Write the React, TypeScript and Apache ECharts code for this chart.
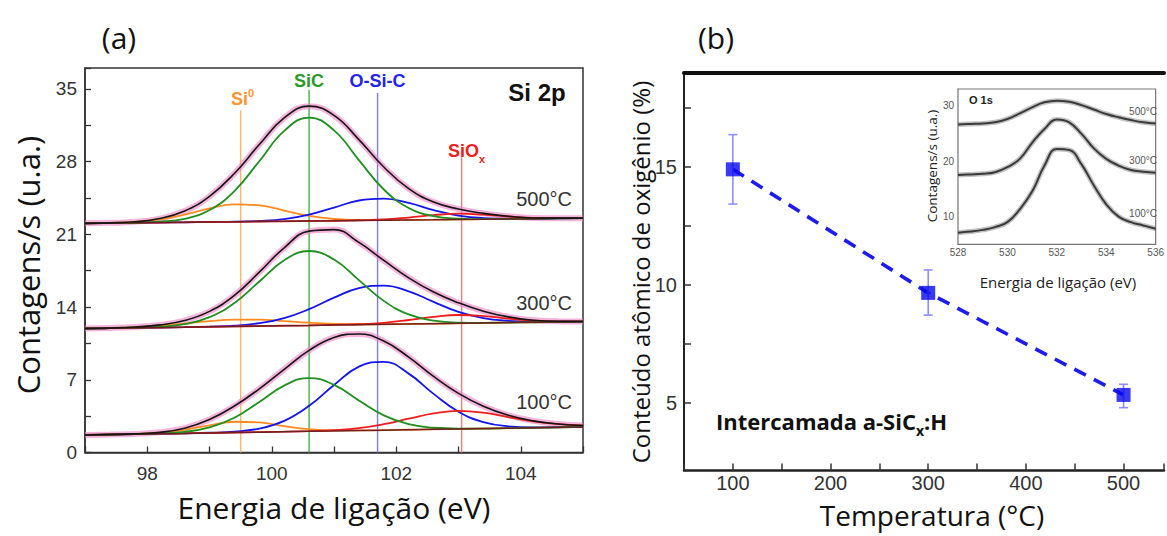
import React, { useEffect, useRef } from "react";
import * as echarts from "echarts";

// ---------- Panel (a): Si 2p spectra (x grid in eV) ----------
const XS_SI = [97, 97.4, 97.8, 98.2, 98.6, 99.0, 99.4, 99.8, 100.2, 100.6, 101.0, 101.4, 101.8, 102.2, 102.6, 103.0, 103.4, 103.8, 104.2, 104.6, 105];

// background (Shirley-like) lines
const BG_500 = [22.05, 22.08, 22.1, 22.13, 22.15, 22.18, 22.2, 22.23, 22.25, 22.28, 22.3, 22.33, 22.35, 22.38, 22.4, 22.43, 22.45, 22.48, 22.5, 22.53, 22.55];
const BG_300 = [11.93, 11.96, 12.0, 12.03, 12.06, 12.1, 12.13, 12.17, 12.2, 12.23, 12.27, 12.3, 12.33, 12.37, 12.4, 12.43, 12.47, 12.5, 12.53, 12.57, 12.6];
const BG_100 = [1.69, 1.73, 1.77, 1.81, 1.84, 1.88, 1.92, 1.96, 2.0, 2.04, 2.07, 2.11, 2.15, 2.19, 2.23, 2.27, 2.3, 2.34, 2.38, 2.42, 2.46];

// fitted envelopes
const ENV_500 = [22.05, 22.1, 22.2, 22.51, 23.23, 24.65, 26.85, 29.63, 32.19, 33.33, 32.44, 30.11, 27.47, 25.39, 24.1, 23.43, 23.01, 22.73, 22.57, 22.55, 22.55];
const ENV_300 = [11.93, 11.98, 12.08, 12.28, 12.7, 13.58, 15.12, 17.35, 19.7, 21.3, 21.45, 20.22, 18.48, 16.81, 15.44, 14.4, 13.6, 13.05, 12.73, 12.62, 12.61];
const ENV_100 = [1.69, 1.73, 1.79, 1.94, 2.34, 3.17, 4.47, 6.13, 8.01, 9.83, 11.07, 11.41, 10.72, 9.18, 7.32, 5.69, 4.45, 3.58, 3.04, 2.75, 2.6];

// component heights above background
const SI0_500 = [0, 0.02, 0.09, 0.3, 0.74, 1.32, 1.68, 1.55, 1.03, 0.49, 0.17, 0.04, 0.01, 0, 0, 0, 0, 0, 0, 0, 0];
const SIC_500 = [0, 0, 0.01, 0.08, 0.34, 1.15, 2.96, 5.8, 8.7, 9.95, 8.7, 5.8, 2.96, 1.15, 0.34, 0.08, 0.01, 0, 0, 0, 0];
const OSIC_500 = [0, 0, 0, 0, 0, 0, 0.01, 0.05, 0.21, 0.61, 1.27, 1.92, 2.08, 1.63, 0.92, 0.37, 0.11, 0.02, 0, 0, 0];
const SIOX_500 = [0, 0, 0, 0, 0, 0, 0, 0, 0, 0, 0, 0.02, 0.07, 0.23, 0.44, 0.55, 0.44, 0.23, 0.07, 0.02, 0];

const SI0_300 = [0, 0.02, 0.07, 0.18, 0.35, 0.54, 0.65, 0.62, 0.45, 0.26, 0.11, 0.04, 0.01, 0, 0, 0, 0, 0, 0, 0, 0];
const SIC_300 = [0, 0, 0.01, 0.07, 0.29, 0.92, 2.26, 4.29, 6.3, 7.16, 6.3, 4.29, 2.26, 0.92, 0.29, 0.07, 0.01, 0, 0, 0, 0];
const OSIC_300 = [0, 0, 0, 0, 0, 0.02, 0.08, 0.27, 0.73, 1.56, 2.63, 3.52, 3.73, 3.14, 2.09, 1.1, 0.46, 0.17, 0.05, 0.01, 0];
const SIOX_300 = [0, 0, 0, 0, 0, 0, 0, 0, 0, 0, 0.01, 0.04, 0.15, 0.38, 0.66, 0.8, 0.66, 0.38, 0.15, 0.04, 0.01];

const SI0_100 = [0, 0, 0.02, 0.1, 0.34, 0.74, 1.04, 0.93, 0.53, 0.2, 0.05, 0.01, 0, 0, 0, 0, 0, 0, 0, 0, 0];
const SIC_100 = [0, 0, 0, 0.03, 0.15, 0.53, 1.42, 2.9, 4.44, 5.12, 4.44, 2.9, 1.42, 0.53, 0.15, 0.03, 0, 0, 0, 0, 0];
const OSIC_100 = [0, 0, 0, 0, 0.01, 0.02, 0.09, 0.34, 1.04, 2.45, 4.43, 6.16, 6.58, 5.4, 3.41, 1.65, 0.62, 0.18, 0.04, 0.01, 0];
const SIOX_100 = [0, 0, 0, 0, 0, 0, 0, 0, 0, 0.02, 0.08, 0.23, 0.57, 1.06, 1.53, 1.74, 1.53, 1.06, 0.62, 0.32, 0.14];

// reference lines (eV) and their top ends
const PEAK_POS = [99.5, 100.6, 101.7, 103.05];
const PEAK_TOP = [32.9, 34.9, 34.6, 28.4];
const TEMP_LABELS_A = ["500°C", "300°C", "100°C"];
const TEMP_LABEL_Y_A = [24.4, 14.4, 4.9];

// ---------- Panel (b): oxygen content ----------
const TEMPS = [100, 300, 500];
const OXYGEN = [14.9, 9.67, 5.35];
const ERR_LOW = [13.43, 8.73, 4.81];
const ERR_HIGH = [16.37, 10.64, 5.8];

// ---------- Inset: O 1s ----------
const XS_O1S = [528, 528.5, 529, 529.5, 530, 530.5, 531, 531.5, 532, 532.5, 533, 533.5, 534, 534.5, 535, 535.5, 536];
const O1S_500 = [26.6, 26.7, 26.8, 27.0, 27.6, 28.6, 29.7, 30.6, 30.9, 30.7, 30.1, 29.3, 28.5, 27.9, 27.4, 27.0, 26.8];
const O1S_300 = [17.5, 17.6, 17.7, 18.0, 18.9, 20.4, 23.3, 25.8, 27.5, 27.0, 24.9, 22.3, 20.4, 19.2, 18.4, 18.1, 17.9];
const O1S_100 = [7.1, 7.3, 7.6, 8.1, 9.0, 11.3, 14.5, 19.2, 22.2, 22.0, 19.4, 15.6, 12.2, 10.0, 9.0, 8.4, 7.8];
const INSET_LABELS = ["500°C", "300°C", "100°C"];

// ---------- layout ----------
const GA = { left: 85, top: 68, width: 498, height: 384.5 };
const XA = [97, 105];
const YA = [0, 37];
const pxA = (x: number) => GA.left + ((x - XA[0]) / (XA[1] - XA[0])) * GA.width;
const pyA = (v: number) => GA.top + GA.height - ((v - YA[0]) / (YA[1] - YA[0])) * GA.height;

const GB = { left: 684, top: 72.5, width: 483, height: 398 };
const GI = { left: 958, top: 89, width: 205, height: 155.3 };

const pts = (xs: number[], ys: number[]) => xs.map((x, i) => [x, ys[i]]);
const stack = (xs: number[], bg: number[], c: number[]) => xs.map((x, i) => [x, Math.round((bg[i] + c[i]) * 1000) / 1000]);

const SPECTRA = [
  { bg: BG_500, env: ENV_500, si0: SI0_500, sic: SIC_500, osic: OSIC_500, siox: SIOX_500 },
  { bg: BG_300, env: ENV_300, si0: SI0_300, sic: SIC_300, osic: OSIC_300, siox: SIOX_300 },
  { bg: BG_100, env: ENV_100, si0: SI0_100, sic: SIC_100, osic: OSIC_100, siox: SIOX_100 },
];

const C_ORANGE = "#ff8a1f";
const C_GREEN = "#1f8f1f";
const C_BLUE = "#1414ee";
const C_RED = "#ee1c1c";
const LINE_COLORS = ["#ffb468", "#4aae4a", "#7a7aff", "#f27a7a"];

const SANS = "'Open Sans', 'Noto Sans', sans-serif";
const ARIAL = "'Liberation Sans', Arial, sans-serif";

function buildOption() {
  const series: any[] = [];

  PEAK_POS.forEach((x, i) => {
    series.push({
      type: "line", xAxisIndex: 0, yAxisIndex: 0, z: 1, silent: true,
      symbol: "none", data: [[x, 0], [x, PEAK_TOP[i]]],
      lineStyle: { color: LINE_COLORS[i], width: 1.4 },
    });
  });

  SPECTRA.forEach((s) => {
    series.push({
      type: "line", xAxisIndex: 0, yAxisIndex: 0, z: 2, silent: true, symbol: "none", smooth: 0.45,
      data: pts(XS_SI, s.env), lineStyle: { color: "rgba(238,128,196,0.6)", width: 6 },
    });
    const comps: [number[], string][] = [[s.si0, C_ORANGE], [s.osic, C_BLUE], [s.siox, C_RED], [s.sic, C_GREEN]];
    comps.forEach(([c, col]) => {
      series.push({
        type: "line", xAxisIndex: 0, yAxisIndex: 0, z: 3, silent: true, symbol: "none", smooth: 0.45,
        data: stack(XS_SI, s.bg, c), lineStyle: { color: col, width: 1.8 },
      });
    });
    series.push({
      type: "line", xAxisIndex: 0, yAxisIndex: 0, z: 4, silent: true, symbol: "none",
      data: pts(XS_SI, s.bg), lineStyle: { color: "#6e1f1f", width: 1.5 },
    });
    series.push({
      type: "line", xAxisIndex: 0, yAxisIndex: 0, z: 5, silent: true, symbol: "none", smooth: 0.45,
      data: pts(XS_SI, s.env), lineStyle: { color: "#161616", width: 1.6 },
    });
  });

  // panel b
  series.push({
    type: "line", xAxisIndex: 1, yAxisIndex: 1, z: 3, silent: true, symbol: "none",
    data: pts(TEMPS, OXYGEN), lineStyle: { color: "#1c1cf0", width: 3.6, type: [13, 9] },
  });
  series.push({
    type: "custom", xAxisIndex: 1, yAxisIndex: 1, z: 4, silent: true,
    data: TEMPS.map((t, i) => [t, ERR_LOW[i], ERR_HIGH[i]]),
    encode: { x: 0, y: [1, 2] },
    renderItem: (_p: any, api: any) => {
      const lo = api.coord([api.value(0), api.value(1)]);
      const hi = api.coord([api.value(0), api.value(2)]);
      const st = { stroke: "#8d8dff", lineWidth: 1.6 };
      const cap = 4.5;
      return {
        type: "group",
        children: [
          { type: "line", shape: { x1: lo[0], y1: lo[1], x2: hi[0], y2: hi[1] }, style: st },
          { type: "line", shape: { x1: lo[0] - cap, y1: lo[1], x2: lo[0] + cap, y2: lo[1] }, style: st },
          { type: "line", shape: { x1: hi[0] - cap, y1: hi[1], x2: hi[0] + cap, y2: hi[1] }, style: st },
        ],
      };
    },
  });
  series.push({
    type: "scatter", xAxisIndex: 1, yAxisIndex: 1, z: 5, silent: true,
    symbol: "rect", symbolSize: 14, data: pts(TEMPS, OXYGEN),
    itemStyle: { color: "#0808ee" },
  });

  // inset
  [O1S_500, O1S_300, O1S_100].forEach((ys) => {
    series.push({
      type: "line", xAxisIndex: 3, yAxisIndex: 2, z: 6, silent: true, symbol: "none", smooth: 0.45,
      data: pts(XS_O1S, ys), lineStyle: { color: "rgba(120,120,120,0.45)", width: 5 },
    });
    series.push({
      type: "line", xAxisIndex: 3, yAxisIndex: 2, z: 7, silent: true, symbol: "none", smooth: 0.45,
      data: pts(XS_O1S, ys), lineStyle: { color: "#3a3a3a", width: 2 },
    });
  });

  const graphic: any[] = [];
  const txt = (text: string, x: number, y: number, o: any = {}, rot = 0) => {
    graphic.push({
      type: "text", x, y, rotation: rot, z: 100, silent: true,
      style: {
        text, fill: o.fill || "#111", fontSize: o.fontSize || 16, fontFamily: o.fontFamily || SANS,
        fontWeight: o.fontWeight || "normal", textAlign: o.align || "center", textVerticalAlign: "middle",
        rich: o.rich,
      },
    });
  };

  txt("(a)", 119, 37, { fontSize: 30 });
  txt("(b)", 716, 37, { fontSize: 30 });
  txt("Contagens/s (u.a.)", 28, 265, { fontSize: 31 }, Math.PI / 2);
  txt("Energia de ligação (eV)", 334, 507, { fontSize: 30 });
  txt("Conteúdo atômico de oxigênio (%)", 640, 272, { fontSize: 24 }, Math.PI / 2);
  txt("Temperatura (°C)", 932, 515, { fontSize: 28 });

  const lblFont = { fontFamily: ARIAL, fontWeight: "bold" };
  txt("{m|Si}{s|0}", pxA(PEAK_POS[0]) + 2, 99, {
    rich: {
      m: { fontSize: 18, fontWeight: "bold", fontFamily: ARIAL, fill: "#ff9430", lineHeight: 24 },
      s: { fontSize: 11, fontWeight: "bold", fontFamily: ARIAL, fill: "#ff9430", verticalAlign: "top" },
    },
  });
  txt("SiC", pxA(PEAK_POS[1]), 81, { ...lblFont, fontSize: 18, fill: "#2a9a2a" });
  txt("O-Si-C", pxA(PEAK_POS[2]), 81, { ...lblFont, fontSize: 18, fill: "#2323ee" });
  txt("{m|SiO}{s|x}", pxA(PEAK_POS[3]) + 5, 151, {
    rich: {
      m: { fontSize: 18, fontWeight: "bold", fontFamily: ARIAL, fill: "#f02020", lineHeight: 26 },
      s: { fontSize: 11, fontWeight: "bold", fontFamily: ARIAL, fill: "#f02020", verticalAlign: "bottom" },
    },
  });
  txt("Si 2p", 537, 92, { fontFamily: ARIAL, fontWeight: "bold", fontSize: 24, fill: "#111" });
  TEMP_LABELS_A.forEach((t, i) => {
    txt(t, 572, pyA(TEMP_LABEL_Y_A[i]), { fontFamily: ARIAL, fontSize: 20, fill: "#333", align: "right" });
  });

  txt("{m|Intercamada a-SiC}{s|x}{m|:H}", 716, 421, {
    align: "left",
    rich: {
      m: { fontSize: 22, fontWeight: "bold", fontFamily: SANS, fill: "#111", lineHeight: 32 },
      s: { fontSize: 14, fontWeight: "bold", fontFamily: SANS, fill: "#111", verticalAlign: "bottom" },
    },
  });

  // inset texts
  txt("O 1s", 969, 100, { fontFamily: ARIAL, fontWeight: "bold", fontSize: 11, fill: "#222", align: "left" });
  const insetY = [111, 160, 213];
  INSET_LABELS.forEach((t, i) => {
    txt(t, 1157, insetY[i], { fontFamily: ARIAL, fontSize: 10, fill: "#555", align: "right" });
  });
  txt("Contagens/s (u.a.)", 932, 166, { fontSize: 13.5, fill: "#222" }, Math.PI / 2);
  txt("Energia de ligação (eV)", 1058, 282, { fontSize: 15, fill: "#222" });

  const isMul = (v: number, m: number) => Math.abs(v / m - Math.round(v / m)) < 1e-6;

  return {
    animation: false,
    backgroundColor: "#ffffff",
    grid: [
      { ...GA, show: true, borderColor: "#333", borderWidth: 1.5, backgroundColor: "transparent" },
      { ...GB, show: false },
      { ...GI, show: true, borderColor: "#777", borderWidth: 1.2, backgroundColor: "#ffffff", z: 5 },
    ],
    xAxis: [
      {
        gridIndex: 0, type: "value", min: XA[0], max: XA[1], interval: 1,
        axisLine: { show: true, onZero: false, lineStyle: { color: "#333", width: 1.5 } },
        axisTick: { inside: true, length: 6, lineStyle: { color: "#333", width: 1.3 } },
        axisLabel: { margin: 11, fontSize: 19, color: "#333", fontFamily: ARIAL, formatter: (v: number) => (isMul(v, 2) && v > XA[0] && v < XA[1] ? String(v) : "") },
        splitLine: { show: false },
      },
      {
        gridIndex: 1, type: "value", min: 50, max: 541.4, interval: 50,
        axisLine: { show: true, onZero: false, lineStyle: { color: "#222", width: 2.5 } },
        axisTick: { inside: true, length: 7, lineStyle: { color: "#333", width: 1.5 } },
        axisLabel: { margin: 2, fontSize: 20, color: "#333", fontFamily: ARIAL, formatter: (v: number) => (isMul(v, 100) ? String(v) : "") },
        splitLine: { show: false },
      },
      {
        gridIndex: 1, type: "value", position: "top", min: 50, max: 541.4,
        axisLine: { show: true, onZero: false, lineStyle: { color: "#111", width: 4 } },
        axisTick: { show: false }, axisLabel: { show: false }, splitLine: { show: false },
      },
      {
        gridIndex: 2, type: "value", min: 528, max: 536, interval: 1,
        axisLine: { show: true, onZero: false, lineStyle: { color: "#777", width: 1.2 } },
        axisTick: { inside: true, length: 3, lineStyle: { color: "#666" } },
        axisLabel: { margin: 3, fontSize: 10, color: "#555", fontFamily: ARIAL, formatter: (v: number) => (isMul(v, 2) ? String(v) : "") },
        splitLine: { show: false },
      },
    ],
    yAxis: [
      {
        gridIndex: 0, type: "value", min: YA[0], max: YA[1], interval: 3.5,
        axisLine: { show: true, onZero: false, lineStyle: { color: "#333", width: 1.5 } },
        axisTick: { inside: true, length: 6, lineStyle: { color: "#333", width: 1.3 } },
        axisLabel: { margin: 8, fontSize: 19, color: "#333", fontFamily: ARIAL, formatter: (v: number) => (isMul(v, 7) && v <= 35 ? String(v) : "") },
        splitLine: { show: false },
      },
      {
        gridIndex: 1, type: "value", min: 2.15, max: 19.0,
        axisLine: { show: true, onZero: false, lineStyle: { color: "#222", width: 2 } },
        axisTick: { inside: true, length: 7, lineStyle: { color: "#333", width: 1.5 }, customValues: [5, 7.5, 10, 12.5, 15, 17.5] },
        axisLabel: { margin: 7, fontSize: 20, color: "#333", fontFamily: ARIAL, customValues: [5, 10, 15] },
        splitLine: { show: false },
      },
      {
        gridIndex: 2, type: "value", min: 5, max: 33, interval: 5,
        axisLine: { show: true, onZero: false, lineStyle: { color: "#777", width: 1.2 } },
        axisTick: { inside: true, length: 3, lineStyle: { color: "#666" } },
        axisLabel: { margin: 4, fontSize: 10, color: "#555", fontFamily: ARIAL, formatter: (v: number) => (isMul(v, 10) ? String(v) : "") },
        splitLine: { show: false },
      },
    ],
    series,
    graphic,
  };
}

export default function App() {
  const ref = useRef<HTMLDivElement>(null);
  useEffect(() => {
    if (!ref.current) return;
    const chart = echarts.init(ref.current, null, { renderer: "svg" });
    chart.setOption(buildOption() as any);
    return () => chart.dispose();
  }, []);
  return (
    <div
      ref={ref}
      style={{ position: "fixed", left: 0, top: 0, width: 1167, height: 536, background: "#fff" }}
    />
  );
}
